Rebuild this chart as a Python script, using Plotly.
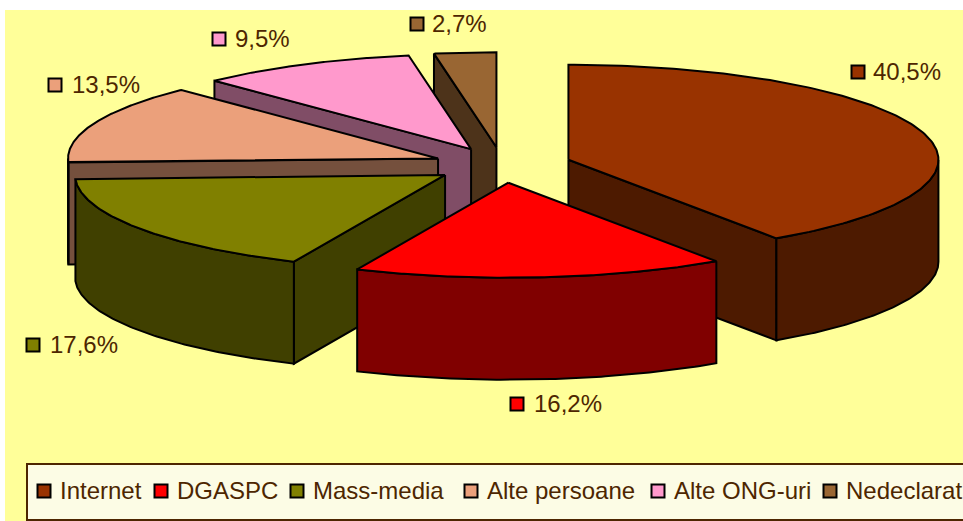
import numpy as np
import plotly.graph_objects as go

# --- data ---
categories = ["Internet", "DGASPC", "Mass-media", "Alte persoane", "Alte ONG-uri", "Nedeclarat"]
values = [40.5, 16.2, 17.6, 13.5, 9.5, 2.7]
value_labels = ["40,5%", "16,2%", "17,6%", "13,5%", "9,5%", "2,7%"]

# --- styles ---
top_colors = ["#993300", "#FF0000", "#808000", "#EBA07B", "#FF99CC", "#996633"]
side_colors = ["#4D1A00", "#800000", "#404000", "#75503D", "#804D66", "#4D331A"]
TEXT = "#4D2600"
PANEL = "#FFFF99"
LEGEND_BG = "#FCFCE5"

# --- pie projection (page pixels) ---
CX, CY, RX, RY, DEPTH, EXPLODE = 502.3, 165.0, 370.0, 95.0, 102.0, 0.187
W, H = 963, 521

# --- label and legend layout ---
label_swatch_x = [858, 517, 33, 55, 219, 417]
label_y = [72, 404, 345, 85, 39, 24]
label_text_x = [873, 534, 50, 72, 235, 432]
legend_swatch_x = [44, 161, 297, 471, 658, 830]
legend_text_x = [60, 177, 313, 487, 674, 846]
LEGEND_Y = 491
TEXT_DY = 2


def project(cx, cy, t, r=1.0):
    return cx + RX * r * np.sin(t), cy - RY * r * np.cos(t)


def poly(fig, xs, ys, fill):
    fig.add_trace(go.Scatter(
        x=list(xs) + [xs[0]], y=list(ys) + [ys[0]], mode="lines", fill="toself",
        fillcolor=fill, line=dict(color="black", width=2), hoverinfo="skip", showlegend=False,
    ))


fig = go.Figure()

total = sum(values)
bounds = np.cumsum([0] + values) / total * 2 * np.pi
wedges = []
for i in range(len(values)):
    a0, a1 = bounds[i], bounds[i + 1]
    mid = (a0 + a1) / 2
    ax, ay = project(CX, CY, mid, EXPLODE)
    wedges.append((i, a0, a1, ax, ay))

# paint from back to front: Internet, then the far slices, DGASPC last
order = [0, 5, 4, 3, 2, 1]
for i in order:
    _, a0, a1, ax, ay = wedges[i]
    # radial side walls that face the viewer
    if a0 > np.pi:
        px, py = project(ax, ay, a0)
        poly(fig, [ax, px, px, ax], [ay, py, py + DEPTH, ay + DEPTH], side_colors[i])
    if a1 < np.pi:
        px, py = project(ax, ay, a1)
        poly(fig, [ax, px, px, ax], [ay, py, py + DEPTH, ay + DEPTH], side_colors[i])
    # outer wall: front half of the rim only
    s0, s1 = max(a0, np.pi / 2), min(a1, 3 * np.pi / 2)
    if s1 > s0:
        t = np.linspace(s0, s1, 90)
        px, py = project(ax, ay, t)
        poly(fig, np.r_[px, px[::-1]], np.r_[py, py[::-1] + DEPTH], side_colors[i])
    # top face
    t = np.linspace(a0, a1, 160)
    px, py = project(ax, ay, t)
    poly(fig, np.r_[ax, px], np.r_[ay, py], top_colors[i])

# data labels with their keys
for i, lab in enumerate(value_labels):
    fig.add_trace(go.Scatter(
        x=[label_swatch_x[i]], y=[label_y[i]], mode="markers",
        marker=dict(symbol="square", size=13, color=top_colors[i], line=dict(color="black", width=2)),
        hoverinfo="skip", showlegend=False,
    ))
    fig.add_trace(go.Scatter(
        x=[label_text_x[i]], y=[label_y[i] + TEXT_DY], mode="text", text=[lab], textposition="middle right",
        textfont=dict(family="Liberation Sans", size=24, color=TEXT),
        hoverinfo="skip", showlegend=False,
    ))

# legend
for i, cat in enumerate(categories):
    fig.add_trace(go.Scatter(
        x=[legend_swatch_x[i]], y=[LEGEND_Y], mode="markers",
        marker=dict(symbol="square", size=13, color=top_colors[i], line=dict(color="black", width=2)),
        hoverinfo="skip", showlegend=False,
    ))
    fig.add_trace(go.Scatter(
        x=[legend_text_x[i]], y=[LEGEND_Y + TEXT_DY], mode="text", text=[cat], textposition="middle right",
        textfont=dict(family="Liberation Sans", size=24, color=TEXT),
        hoverinfo="skip", showlegend=False,
    ))

fig.update_layout(
    width=W, height=H, autosize=False,
    margin=dict(l=0, r=0, t=0, b=0),
    paper_bgcolor="white", plot_bgcolor="white",
    xaxis=dict(range=[0, W], visible=False, fixedrange=True),
    yaxis=dict(range=[H, 0], visible=False, fixedrange=True),
    shapes=[
        dict(type="rect", layer="below", x0=5, x1=W + 5, y0=10, y1=H + 5, fillcolor=PANEL, line=dict(width=0)),
        dict(type="rect", layer="below", x0=27, x1=W + 5, y0=464, y1=520, fillcolor=LEGEND_BG,
             line=dict(color=TEXT, width=2)),
    ],
)
fig.write_html(
    "out.html",
    config=dict(displayModeBar=False),
    post_script="document.body.style.margin='0';document.body.style.overflow='hidden';",
)
